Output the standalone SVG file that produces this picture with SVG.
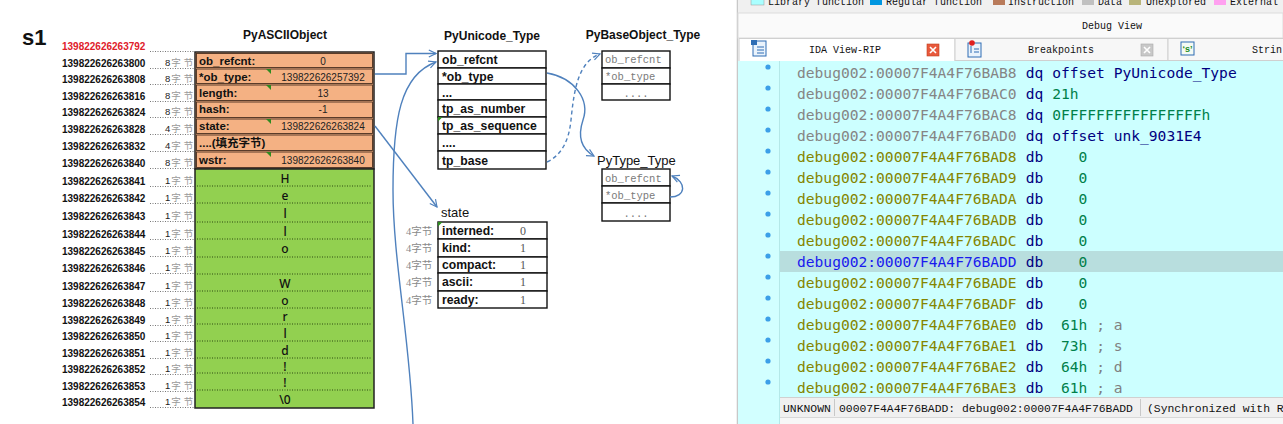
<svg xmlns="http://www.w3.org/2000/svg" width="1283" height="424" viewBox="0 0 1283 424">
<defs>
<style>
.addr{font-family:"Liberation Sans",Arial,sans-serif;font-weight:bold;font-size:10px;fill:#111}
.bytes{font-family:"Liberation Sans","Noto Sans CJK SC",sans-serif;font-size:9.5px;fill:#9a9a9a}
.n{fill:#222}
.dots{stroke:#777;stroke-width:1;stroke-dasharray:1 1.5;fill:none}
.orow{fill:#F4B183;stroke:#4a3020;stroke-width:0.9}
.lbl{font-family:"Liberation Sans","Noto Sans CJK SC",sans-serif;font-weight:bold;font-size:11.5px;fill:#111}
.val{font-family:"Liberation Sans",sans-serif;font-size:10px;fill:#222;text-anchor:middle}
.chr{font-family:"Noto Sans",sans-serif;font-size:12px;fill:#111;text-anchor:middle;font-weight:500}
.gsep{stroke:#2d4a10;stroke-width:1;stroke-dasharray:1 1.5}
.title{font-family:"Liberation Sans",sans-serif;font-weight:bold;font-size:12px;fill:#111;text-anchor:middle}
.cell{fill:#fff;stroke:#111;stroke-width:1.4}
.ftxt{font-family:"Liberation Sans",sans-serif;font-weight:bold;font-size:12.2px;fill:#111}
.mono{font-family:"Liberation Mono",monospace;font-size:10.5px;fill:#7a7a7a}
.ser{font-family:"Liberation Serif",serif;font-size:12px;fill:#555;text-anchor:middle}
.four{font-family:"Liberation Serif","Noto Sans CJK SC",serif;font-size:10.5px;fill:#8a8a8a}
.plain{font-family:"Liberation Sans",sans-serif;font-size:13px;fill:#111}
.conn{fill:none;stroke:#4F81BD;stroke-width:1.4}
.dash{stroke-dasharray:4 3}
.mark{fill:#2E8B20}
.ui{font-family:"Liberation Mono",monospace;font-size:10px;fill:#111}
.code{font-family:"DejaVu Sans Mono",monospace;font-size:14.6px}
.ga{fill:#858585}.oa{fill:#858500}.ba{fill:#1a1aee}.kw{fill:#000080}.nm{fill:#00804a}.cm{fill:#808080}
.dot{fill:#3C9FE8}
.stat{font-family:"Liberation Mono",monospace;font-size:11.4px;fill:#111}
</style>
<marker id="arr" viewBox="0 0 10 10" refX="9" refY="5" markerWidth="9" markerHeight="9" orient="auto" markerUnits="userSpaceOnUse">
<path d="M1,1 L9,5 L1,9" fill="none" stroke="#4F81BD" stroke-width="1.3"/>
</marker>
</defs>

<rect x="0" y="0" width="737" height="424" fill="#ffffff"/>

<g id="label-s1">
<text x="22" y="45" font-family="Liberation Sans,sans-serif" font-weight="bold" font-size="22" fill="#111">s1</text>
</g>

<g id="addresses">
<text class="addr" x="62" y="49.5" style="fill:#e0202a">139822626263792</text>
<text class="addr" x="62" y="66.5">139822626263800</text>
<text class="addr" x="62" y="82.5">139822626263808</text>
<text class="addr" x="62" y="99.5">139822626263816</text>
<text class="addr" x="62" y="115.5">139822626263824</text>
<text class="addr" x="62" y="132.5">139822626263828</text>
<text class="addr" x="62" y="149.5">139822626263832</text>
<text class="addr" x="62" y="166.5">139822626263840</text>
<text class="addr" x="62" y="184.5">139822626263841</text>
<text class="addr" x="62" y="201.5">139822626263842</text>
<text class="addr" x="62" y="219.5">139822626263843</text>
<text class="addr" x="62" y="237.5">139822626263844</text>
<text class="addr" x="62" y="254.5">139822626263845</text>
<text class="addr" x="62" y="271.5">139822626263846</text>
<text class="addr" x="62" y="289.5">139822626263847</text>
<text class="addr" x="62" y="306.5">139822626263848</text>
<text class="addr" x="62" y="323.5">139822626263849</text>
<text class="addr" x="62" y="339.5">139822626263850</text>
<text class="addr" x="62" y="356.5">139822626263851</text>
<text class="addr" x="62" y="372.5">139822626263852</text>
<text class="addr" x="62" y="389.5">139822626263853</text>
<text class="addr" x="62" y="405.5">139822626263854</text>
<path class="dots" d="M150,51.5H195M150,68.5H195M150,84.5H195M150,101.5H195M150,117.5H195M150,134.5H195M150,151.5H195M150,168.5H195M150,186.5H195M150,203.5H195M150,221.5H195M150,239.5H195M150,256.5H195M150,273.5H195M150,291.5H195M150,308.5H195M150,325.5H195M150,341.5H195M150,358.5H195M150,374.5H195M150,391.5H195M150,407.5H195"/>
<g class="bytes">
<text x="165" y="66"><tspan class="n">8</tspan><tspan dx="1">字</tspan><tspan dx="3">节</tspan></text>
<text x="165" y="82"><tspan class="n">8</tspan><tspan dx="1">字</tspan><tspan dx="3">节</tspan></text>
<text x="165" y="99"><tspan class="n">8</tspan><tspan dx="1">字</tspan><tspan dx="3">节</tspan></text>
<text x="165" y="115"><tspan class="n">8</tspan><tspan dx="1">字</tspan><tspan dx="3">节</tspan></text>
<text x="165" y="132"><tspan class="n">4</tspan><tspan dx="1">字</tspan><tspan dx="3">节</tspan></text>
<text x="165" y="149"><tspan class="n">4</tspan><tspan dx="1">字</tspan><tspan dx="3">节</tspan></text>
<text x="165" y="166"><tspan class="n">8</tspan><tspan dx="1">字</tspan><tspan dx="3">节</tspan></text>
<text x="165" y="184"><tspan class="n">1</tspan><tspan dx="1">字</tspan><tspan dx="3">节</tspan></text>
<text x="165" y="201"><tspan class="n">1</tspan><tspan dx="1">字</tspan><tspan dx="3">节</tspan></text>
<text x="165" y="219"><tspan class="n">1</tspan><tspan dx="1">字</tspan><tspan dx="3">节</tspan></text>
<text x="165" y="237"><tspan class="n">1</tspan><tspan dx="1">字</tspan><tspan dx="3">节</tspan></text>
<text x="165" y="254"><tspan class="n">1</tspan><tspan dx="1">字</tspan><tspan dx="3">节</tspan></text>
<text x="165" y="271"><tspan class="n">1</tspan><tspan dx="1">字</tspan><tspan dx="3">节</tspan></text>
<text x="165" y="289"><tspan class="n">1</tspan><tspan dx="1">字</tspan><tspan dx="3">节</tspan></text>
<text x="165" y="306"><tspan class="n">1</tspan><tspan dx="1">字</tspan><tspan dx="3">节</tspan></text>
<text x="165" y="323"><tspan class="n">1</tspan><tspan dx="1">字</tspan><tspan dx="3">节</tspan></text>
<text x="165" y="339"><tspan class="n">1</tspan><tspan dx="1">字</tspan><tspan dx="3">节</tspan></text>
<text x="165" y="356"><tspan class="n">1</tspan><tspan dx="1">字</tspan><tspan dx="3">节</tspan></text>
<text x="165" y="372"><tspan class="n">1</tspan><tspan dx="1">字</tspan><tspan dx="3">节</tspan></text>
<text x="165" y="389"><tspan class="n">1</tspan><tspan dx="1">字</tspan><tspan dx="3">节</tspan></text>
<text x="165" y="405"><tspan class="n">1</tspan><tspan dx="1">字</tspan><tspan dx="3">节</tspan></text>
</g>
</g>

<g id="PyASCIIObject">
<text class="title" x="285" y="39" font-size="11.5">PyASCIIObject</text>
<rect x="195" y="52" width="179" height="117" fill="#F4B183" stroke="#222" stroke-width="1.5"/>
<rect class="orow" x="196.5" y="53.5" width="176" height="14"/>
<rect class="orow" x="196.5" y="69" width="176" height="14.5"/>
<rect class="orow" x="196.5" y="85" width="176" height="15.5"/>
<rect class="orow" x="196.5" y="102" width="176" height="15.5"/>
<rect class="orow" x="196.5" y="119" width="176" height="14.5"/>
<rect class="orow" x="196.5" y="135" width="176" height="15.5"/>
<rect class="orow" x="196.5" y="152" width="176" height="15.5"/>
<polygon class="mark" points="266,69 271,69 271,74"/>
<polygon class="mark" points="266,85 271,85 271,90"/>
<polygon class="mark" points="266,119 271,119 271,124"/>
<polygon class="mark" points="266,152 271,152 271,157"/>
<text class="lbl" x="199" y="65">ob_refcnt:</text>
<text class="lbl" x="199" y="81">*ob_type:</text>
<text class="lbl" x="199" y="97">length:</text>
<text class="lbl" x="199" y="113">hash:</text>
<text class="lbl" x="199" y="130">state:</text>
<text class="lbl" x="199" y="147">....(填充字节)</text>
<text class="lbl" x="199" y="164">wstr:</text>
<text class="val" x="323" y="65">0</text>
<text class="val" x="323" y="81">139822626257392</text>
<text class="val" x="323" y="97">13</text>
<text class="val" x="323" y="113">-1</text>
<text class="val" x="323" y="130">139822626263824</text>
<text class="val" x="323" y="164">139822626263840</text>
<rect x="195" y="169" width="179" height="239" fill="#92D050" stroke="#222" stroke-width="1.5"/>
<path class="gsep" d="M197,186H372M197,203H372M197,222H372M197,239H372M197,257H372M197,274H372M197,291H372M197,308H372M197,324H372M197,341H372M197,358H372M197,373H372M197,390H372"/>
<text class="chr" x="285" y="182.5">H</text>
<text class="chr" x="285" y="200">e</text>
<text class="chr" x="285" y="217.5">l</text>
<text class="chr" x="285" y="236">l</text>
<text class="chr" x="285" y="253">o</text>
<text class="chr" x="285" y="287.5">W</text>
<text class="chr" x="285" y="305">o</text>
<text class="chr" x="285" y="321">r</text>
<text class="chr" x="285" y="337.5">l</text>
<text class="chr" x="285" y="354.5">d</text>
<text class="chr" x="285" y="371">!</text>
<text class="chr" x="285" y="386.5">!</text>
<text class="chr" x="285" y="403.5">\0</text>
</g>

<g id="PyUnicode_Type">
<text class="title" x="492" y="40" font-size="12.3">PyUnicode_Type</text>
<rect class="cell" x="438" y="51" width="108" height="17"/>
<rect class="cell" x="438" y="68" width="108" height="16"/>
<rect class="cell" x="438" y="84" width="108" height="16"/>
<rect class="cell" x="438" y="100" width="108" height="17"/>
<rect class="cell" x="438" y="117" width="108" height="17"/>
<rect class="cell" x="438" y="134" width="108" height="17"/>
<rect class="cell" x="438" y="151" width="108" height="18"/>
<polygon class="mark" points="438,117 442.5,117 438,121.5"/>
<text class="ftxt" x="442" y="64">ob_refcnt</text>
<text class="ftxt" x="442" y="81">*ob_type</text>
<text class="ftxt" x="442" y="97">...</text>
<text class="ftxt" x="442" y="113">tp_as_number</text>
<text class="ftxt" x="442" y="130">tp_as_sequence</text>
<text class="ftxt" x="442" y="147">....</text>
<text class="ftxt" x="442" y="165">tp_base</text>
</g>

<g id="state">
<text class="plain" x="441" y="217">state</text>
<rect class="cell" x="438" y="222" width="109" height="17"/>
<rect class="cell" x="438" y="239" width="109" height="18"/>
<rect class="cell" x="438" y="257" width="109" height="16"/>
<rect class="cell" x="438" y="273" width="109" height="18"/>
<rect class="cell" x="438" y="291" width="109" height="17"/>
<polygon class="mark" points="438,222 442.5,222 438,226.5"/>
<text class="ftxt" x="442" y="235">interned:</text>
<text class="ftxt" x="442" y="252">kind:</text>
<text class="ftxt" x="442" y="269">compact:</text>
<text class="ftxt" x="442" y="286">ascii:</text>
<text class="ftxt" x="442" y="304">ready:</text>
<text class="ser" x="523" y="235">0</text>
<text class="ser" x="523" y="252">1</text>
<text class="ser" x="523" y="269">1</text>
<text class="ser" x="523" y="286">1</text>
<text class="ser" x="523" y="304">1</text>
<text class="four" x="406" y="235">4字节</text>
<text class="four" x="406" y="252">4字节</text>
<text class="four" x="406" y="269">4字节</text>
<text class="four" x="406" y="286">4字节</text>
<text class="four" x="406" y="304">4字节</text>
</g>

<g id="PyBaseObject_Type">
<text class="title" x="643" y="39">PyBaseObject_Type</text>
<rect class="cell" x="602" y="51" width="68" height="17"/>
<rect class="cell" x="602" y="68" width="68" height="16"/>
<rect class="cell" x="602" y="84" width="68" height="16"/>
<text class="mono" x="605" y="63">ob_refcnt</text>
<text class="mono" x="605" y="80">*ob_type</text>
<text class="mono" x="636" y="97" text-anchor="middle">....</text>
</g>

<g id="PyType_Type">
<text class="plain" x="597" y="165" font-size="12.5">PyType_Type</text>
<rect class="cell" x="602" y="169" width="68" height="17"/>
<rect class="cell" x="602" y="186" width="68" height="17"/>
<rect class="cell" x="602" y="203" width="68" height="18"/>
<text class="mono" x="605" y="182">ob_refcnt</text>
<text class="mono" x="605" y="199">*ob_type</text>
<text class="mono" x="636" y="217" text-anchor="middle">....</text>
</g>

<g id="connectors">
<path class="conn" d="M375,74 H406 V53.5 H436" marker-end="url(#arr)"/>
<path class="conn" d="M375,126 L437,207" marker-end="url(#arr)"/>
<path class="conn" d="M413,424 C410,340 393,260 393,190 C393,120 400,75 436,62" marker-end="url(#arr)"/>
<path class="conn" d="M547,73 C575,78 590,100 583,120 C578,135 580,148 594,156" marker-end="url(#arr)"/>
<path class="conn dash" d="M547,162 C562,155 569,140 571,120 C574,90 578,62 600,54" marker-end="url(#arr)"/>
<path class="conn" d="M670,197 C686,197 687,182 672,176" marker-end="url(#arr)"/>
</g>

<g id="ida-panel">
<rect x="736" y="0" width="547" height="424" fill="#F0F0F0"/>
<line x1="737.5" y1="0" x2="737.5" y2="424" stroke="#C8C8C8"/>
<rect x="751" y="-2" width="13" height="7" fill="#AAFFFF" stroke="#999" stroke-width="0.5"/>
<text class="ui" x="768" y="5">Library function</text>
<rect x="870" y="-2" width="12" height="7" fill="#0096E0"/>
<text class="ui" x="886" y="5">Regular function</text>
<rect x="993" y="-2" width="12" height="7" fill="#B87A5A"/>
<text class="ui" x="1008" y="5">Instruction</text>
<rect x="1082" y="-2" width="12" height="7" fill="#C0C0C0"/>
<text class="ui" x="1098" y="5">Data</text>
<rect x="1129" y="-2" width="12" height="7" fill="#B8B47A"/>
<text class="ui" x="1146" y="5">Unexplored</text>
<rect x="1214" y="-2" width="12" height="7" fill="#FFA0F0"/>
<text class="ui" x="1230" y="5">External</text>
<rect x="738" y="13" width="545" height="25" fill="#FAFAFA" stroke="#DCDCDC" stroke-width="1"/>
<text class="ui" x="1112" y="29" text-anchor="middle">Debug View</text>
<rect x="738" y="38" width="545" height="23" fill="#F7F7F7"/>
<rect x="739" y="38.5" width="216" height="23" fill="#FFFFFF" stroke="#D0D0D0"/>
<rect x="955" y="38.5" width="213" height="22" fill="#F7F7F7" stroke="#D0D0D0"/>
<rect x="1168" y="38.5" width="116" height="22" fill="#F7F7F7" stroke="#D0D0D0"/>
<rect x="753" y="41" width="13" height="15" fill="#EAF3FC" stroke="#2E6DB4" stroke-width="1"/>
<rect x="751" y="40" width="6" height="5" fill="#2E6DB4"/>
<path d="M757,47H764M757,50H764M757,53H764" stroke="#2E6DB4" stroke-width="1"/>
<text class="ui" x="845" y="53" text-anchor="middle">IDA View-RIP</text>
<rect x="927" y="44" width="12" height="12" fill="#E8593C" stroke="#c04020" stroke-width="0.6"/>
<path d="M930,47L936,53M936,47L930,53" stroke="#fff" stroke-width="1.6"/>
<rect x="968" y="43" width="13" height="14" fill="#EAF3FC" stroke="#2E6DB4" stroke-width="1"/>
<circle cx="972" cy="43" r="2.8" fill="#E02020"/>
<path d="M971,46V53M974,49H979M974,52H979" stroke="#2E6DB4" stroke-width="1"/>
<text class="ui" x="1061" y="53" text-anchor="middle">Breakpoints</text>
<rect x="1141" y="44" width="12" height="12" fill="#C8C8C8" stroke="#aaa" stroke-width="0.6"/>
<path d="M1144,47L1150,53M1150,47L1144,53" stroke="#fff" stroke-width="1.6"/>
<rect x="1181" y="42" width="13" height="13" fill="#F4FAF4" stroke="#2E6DB4" stroke-width="1"/>
<text x="1187.5" y="52" font-family="Liberation Sans,sans-serif" font-size="9" font-weight="bold" fill="#1a8a1a" text-anchor="middle">‘s’</text>
<text class="ui" x="1252" y="53">Strin</text>
<rect x="738" y="61" width="42" height="363" fill="#D2FFFF"/>
<rect x="780" y="61" width="503" height="336" fill="#CCFFFF"/>
<line x1="779.5" y1="61" x2="779.5" y2="424" stroke="#B4E8E8"/>
<rect x="780" y="251" width="503" height="21" fill="#B8DEDE"/>
<g class="dot">
<circle cx="768" cy="67" r="2.6"/><circle cx="768" cy="88" r="2.6"/><circle cx="768" cy="109" r="2.6"/><circle cx="768" cy="130" r="2.6"/><circle cx="768" cy="151" r="2.6"/><circle cx="768" cy="172" r="2.6"/><circle cx="768" cy="193" r="2.6"/><circle cx="768" cy="214" r="2.6"/><circle cx="768" cy="235" r="2.6"/><circle cx="768" cy="256" r="2.6"/><circle cx="768" cy="277" r="2.6"/><circle cx="768" cy="298" r="2.6"/><circle cx="768" cy="319" r="2.6"/><circle cx="768" cy="340" r="2.6"/><circle cx="768" cy="361" r="2.6"/><circle cx="768" cy="382" r="2.6"/>
</g>
<g class="code">
<text y="78"><tspan x="797" class="ga">debug002:00007F4A4F76BAB8</tspan><tspan x="1025.8" class="kw">dq</tspan><tspan x="1052.2" class="kw">offset PyUnicode_Type</tspan></text>
<text y="99"><tspan x="797" class="ga">debug002:00007F4A4F76BAC0</tspan><tspan x="1025.8" class="kw">dq</tspan><tspan x="1052.2" class="nm">21h</tspan></text>
<text y="120"><tspan x="797" class="ga">debug002:00007F4A4F76BAC8</tspan><tspan x="1025.8" class="kw">dq</tspan><tspan x="1052.2" class="nm">0FFFFFFFFFFFFFFFFh</tspan></text>
<text y="141"><tspan x="797" class="ga">debug002:00007F4A4F76BAD0</tspan><tspan x="1025.8" class="kw">dq</tspan><tspan x="1052.2" class="kw">offset unk_9031E4</tspan></text>
<text y="162"><tspan x="797" class="oa">debug002:00007F4A4F76BAD8</tspan><tspan x="1025.8" class="kw">db</tspan><tspan x="1078.6" class="nm">0</tspan></text>
<text y="183"><tspan x="797" class="oa">debug002:00007F4A4F76BAD9</tspan><tspan x="1025.8" class="kw">db</tspan><tspan x="1078.6" class="nm">0</tspan></text>
<text y="204"><tspan x="797" class="oa">debug002:00007F4A4F76BADA</tspan><tspan x="1025.8" class="kw">db</tspan><tspan x="1078.6" class="nm">0</tspan></text>
<text y="225"><tspan x="797" class="oa">debug002:00007F4A4F76BADB</tspan><tspan x="1025.8" class="kw">db</tspan><tspan x="1078.6" class="nm">0</tspan></text>
<text y="246"><tspan x="797" class="oa">debug002:00007F4A4F76BADC</tspan><tspan x="1025.8" class="kw">db</tspan><tspan x="1078.6" class="nm">0</tspan></text>
<text y="267"><tspan x="797" class="ba">debug002:00007F4A4F76BADD</tspan><tspan x="1025.8" class="kw">db</tspan><tspan x="1078.6" class="nm">0</tspan></text>
<text y="288"><tspan x="797" class="oa">debug002:00007F4A4F76BADE</tspan><tspan x="1025.8" class="kw">db</tspan><tspan x="1078.6" class="nm">0</tspan></text>
<text y="309"><tspan x="797" class="oa">debug002:00007F4A4F76BADF</tspan><tspan x="1025.8" class="kw">db</tspan><tspan x="1078.6" class="nm">0</tspan></text>
<text y="330"><tspan x="797" class="oa">debug002:00007F4A4F76BAE0</tspan><tspan x="1025.8" class="kw">db</tspan><tspan x="1061" class="nm">61h</tspan><tspan x="1096.2" class="cm">; a</tspan></text>
<text y="351"><tspan x="797" class="oa">debug002:00007F4A4F76BAE1</tspan><tspan x="1025.8" class="kw">db</tspan><tspan x="1061" class="nm">73h</tspan><tspan x="1096.2" class="cm">; s</tspan></text>
<text y="372"><tspan x="797" class="oa">debug002:00007F4A4F76BAE2</tspan><tspan x="1025.8" class="kw">db</tspan><tspan x="1061" class="nm">64h</tspan><tspan x="1096.2" class="cm">; d</tspan></text>
<text y="393"><tspan x="797" class="oa">debug002:00007F4A4F76BAE3</tspan><tspan x="1025.8" class="kw">db</tspan><tspan x="1061" class="nm">61h</tspan><tspan x="1096.2" class="cm">; a</tspan></text>
</g>
<rect x="780" y="397" width="503" height="20" fill="#F0F0F0"/>
<line x1="780" y1="397.5" x2="1283" y2="397.5" stroke="#D0D0D0"/>
<line x1="780" y1="417.5" x2="1283" y2="417.5" stroke="#D8D8D8"/>
<rect x="780" y="418" width="503" height="6" fill="#F7F7F7"/>
<line x1="834.5" y1="399" x2="834.5" y2="416" stroke="#C8C8C8"/>
<line x1="1140.5" y1="399" x2="1140.5" y2="416" stroke="#C8C8C8"/>
<text class="stat" x="783" y="412">UNKNOWN</text>
<text class="stat" x="839" y="412">00007F4A4F76BADD: debug002:00007F4A4F76BADD</text>
<text class="stat" x="1147" y="412">(Synchronized with R</text>
</g>
</svg>
